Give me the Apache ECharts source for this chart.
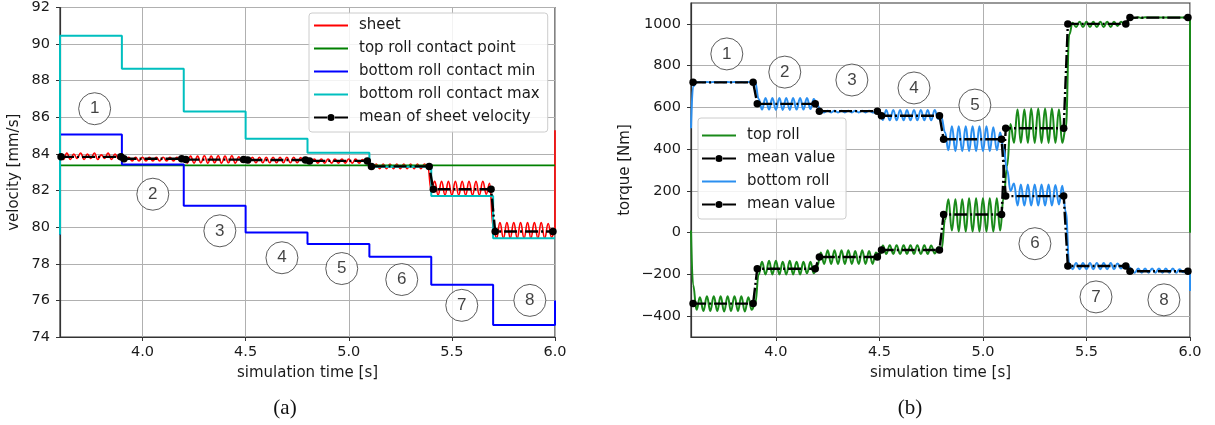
<!DOCTYPE html>
<html><head><meta charset="utf-8">
<script src="https://cdn.jsdelivr.net/npm/echarts@6/dist/echarts.min.js"></script>
<style>html,body{margin:0;padding:0;background:#fff}#c{width:1215px;height:425px}</style>
</head><body><div id="c"></div>
<script>
// ---------- shared sample times (s) ----------
const sampleTimes = [
3.600,3.617,3.633,3.650,3.667,3.683,3.700,3.717,3.733,3.750,3.767,3.783,3.800,3.817,3.833,3.850,3.867,3.883,
3.900,3.917,3.933,3.950,3.967,3.983,4.000,4.017,4.033,4.050,4.067,4.083,4.100,4.117,4.133,4.150,4.167,4.183,
4.200,4.217,4.233,4.250,4.267,4.283,4.300,4.317,4.333,4.350,4.367,4.383,4.400,4.417,4.433,4.450,4.467,4.483,
4.500,4.517,4.533,4.550,4.567,4.583,4.600,4.617,4.633,4.650,4.667,4.683,4.700,4.717,4.733,4.750,4.767,4.783,
4.800,4.817,4.833,4.850,4.867,4.883,4.900,4.917,4.933,4.950,4.967,4.983,5.000,5.017,5.033,5.050,5.067,5.083,
5.100,5.117,5.133,5.150,5.167,5.183,5.200,5.217,5.233,5.250,5.267,5.283,5.300,5.317,5.333,5.350,5.367,5.383,
5.400,5.417,5.433,5.450,5.467,5.483,5.500,5.517,5.533,5.550,5.567,5.583,5.600,5.617,5.633,5.650,5.667,5.683,
5.700,5.717,5.733,5.750,5.767,5.783,5.800,5.817,5.833,5.850,5.867,5.883,5.900,5.917,5.933,5.950,5.967,5.983,
6.000];

// ---------- (a) velocity [mm/s] ----------
const sheetVelocity = [
83.9,83.7,84.05,83.7,84.0,83.75,84.05,83.7,84.0,83.75,84.05,83.7,83.95,83.75,84.05,83.7,84.0,83.75,
83.8,83.62,83.82,83.62,83.82,83.62,83.82,83.62,83.82,83.62,83.82,83.62,83.82,83.62,83.82,83.62,83.82,83.65,
83.75,83.5,83.88,83.5,83.88,83.52,83.9,83.5,83.88,83.52,83.9,83.5,83.88,83.52,83.9,83.5,83.85,83.55,
83.75,83.52,83.82,83.52,83.82,83.52,83.82,83.52,83.82,83.52,83.82,83.52,83.82,83.52,83.82,83.52,83.8,83.55,
83.7,83.5,83.72,83.5,83.72,83.5,83.72,83.5,83.72,83.5,83.72,83.5,83.72,83.5,83.72,83.5,83.7,83.5,
83.45,83.2,83.45,83.2,83.45,83.2,83.45,83.2,83.45,83.2,83.45,83.2,83.45,83.2,83.45,83.2,83.45,83.3,
82.0,82.5,81.75,82.5,81.75,82.5,81.75,82.5,81.75,82.5,81.75,82.5,81.75,82.5,81.75,82.5,81.8,82.4,
80.0,79.4,80.25,79.4,80.25,79.4,80.25,79.4,80.25,79.4,80.25,79.4,80.25,79.4,80.25,79.4,80.2,79.45,
79.8];
const sheetEnd = [[6.0, 85.3]];
const topContact = [[3.6, 83.38], [6.0, 83.38]];
const bottomContactMin = [[3.6,79.6],[3.6,85.06],[3.9,83.42],[4.2,81.17],[4.5,79.71],[4.8,79.08],[5.1,78.39],[5.4,76.85],[5.7,74.65],[6.0,74.65],[6.0,76.0]];
const bottomContactMax = [[3.6,79.6],[3.6,90.45],[3.9,88.66],[4.2,86.32],[4.5,84.83],[4.8,84.07],[5.1,83.3],[5.4,81.7],[5.7,79.39],[6.0,79.39]];
const meanSheet = [[3.605,83.84],[3.895,83.84],[3.91,83.74],[4.19,83.74],[4.21,83.69],[4.49,83.69],[4.51,83.67],[4.79,83.67],[4.81,83.62],[5.09,83.62],[5.11,83.32],[5.39,83.32],[5.41,82.07],[5.69,82.07],[5.71,79.76],[5.99,79.76]];

// ---------- (b) torque [Nm] ----------
const topRollTorque = [
-250,-370,-310,-375,-305,-375,-305,-375,-305,-378,-305,-375,-305,-375,-305,-378,-310,-370,
-340,-200,-140,-200,-135,-200,-135,-200,-140,-200,-135,-200,-140,-200,-140,-195,-140,-195,
-160,-95,-150,-85,-150,-85,-150,-85,-150,-85,-150,-88,-150,-85,-150,-88,-150,-95,
-110,-62,-102,-60,-102,-60,-102,-60,-102,-60,-102,-60,-102,-60,-102,-62,-100,-70,
-80,60,160,10,160,5,160,5,165,5,165,5,165,5,165,5,165,10,
170,320,520,430,590,430,590,430,595,430,595,430,595,430,595,430,590,430,
500,950,1005,985,1010,985,1010,985,1010,985,1010,985,1010,985,1010,990,1010,995,
1015,1030,1028,1032,1028,1032,1030,1030,1030,1030,1030,1030,1030,1030,1030,1030,1030,1030,
1030];
const topRollStart = [[3.59, 10]];
const topRollEnd = [[6.0, 0]];
const bottomRollTorque = [
700,720,722,720,722,720,722,720,722,720,722,720,722,720,722,720,722,720,
720,640,590,645,590,645,588,645,588,645,588,645,590,645,590,645,592,640,
610,585,576,584,576,584,576,584,576,584,576,584,576,584,576,584,576,580,
580,540,588,538,588,538,588,538,588,538,588,538,588,538,588,538,588,545,
550,480,395,510,390,510,390,510,390,510,390,510,390,510,390,505,395,480,
400,300,200,235,130,230,130,230,130,230,130,230,130,230,130,228,135,225,
100,-150,-175,-145,-175,-145,-175,-145,-175,-145,-175,-145,-175,-145,-175,-148,-172,-150,
-160,-175,-192,-172,-192,-172,-192,-172,-192,-172,-192,-172,-192,-172,-192,-175,-190,-180,
-185];
const bottomRollStart = [[3.59, 500]];
const bottomRollEnd = [[6.0, -280]];
const meanTopRoll = [[3.6,-340],[3.89,-340],[3.91,-173],[4.19,-173],[4.21,-117],[4.49,-117],[4.51,-83],[4.79,-83],[4.81,87],[5.09,87],[5.11,500],[5.39,500],[5.41,1000],[5.69,1000],[5.71,1030],[5.99,1030]];
const meanBottomRoll = [[3.6,720],[3.89,720],[3.91,617],[4.19,617],[4.21,582],[4.49,582],[4.51,560],[4.79,560],[4.81,447],[5.09,447],[5.11,175],[5.39,175],[5.41,-160],[5.69,-160],[5.71,-185],[5.99,-185]];

// ---------- circled phase numbers ----------
const phaseLabels = ['1','2','3','4','5','6','7','8'];
const phaseTimesA = [3.768, 4.05, 4.375, 4.676, 4.966, 5.257, 5.548, 5.878];
const phaseVelA = [86.47, 81.8, 79.8, 78.33, 77.74, 77.14, 75.73, 76.0];
const phaseTimesB = [3.763, 4.043, 4.367, 4.667, 4.961, 5.251, 5.546, 5.874];
const phaseTorqueB = [856, 769, 731, 693, 611, -53, -308, -322];

const xTicks = [4.0, 4.5, 5.0, 5.5, 6.0];
const yTicksB = [-400, -200, 0, 200, 400, 600, 800, 1000];

// ---------- build ----------
const zipT = vals => sampleTimes.map((t, i) => [t, vals[i]]);
const FONT = 'DejaVu Sans';
const TXT = '#1a1a1a';
const AX = '#333';
const fmtX = v => { const k = Math.round(v * 2); return Math.abs(v * 2 - k) < 1e-6 ? v.toFixed(1) : ''; };
const fmtYB = v => (Math.round(v) % 200 === 0) ? (v < 0 ? '\u2212' + Math.abs(v) : String(v)) : '';

function xAxisCfg(gi, min) {
  return {
    gridIndex: gi, type: 'value', min: min, max: 6.0, splitNumber: 5,
    axisLine: { show: true, onZero: false, lineStyle: { color: AX, width: 1.2 } },
    axisTick: { show: true, length: 4, customValues: xTicks, lineStyle: { color: AX } },
    axisLabel: { formatter: fmtX, customValues: xTicks, color: TXT, fontSize: 14.5, fontFamily: FONT, margin: 8 },
    splitLine: { show: true, lineStyle: { color: '#b0b0b0', width: 1 } },
    name: 'simulation time [s]', nameLocation: 'middle', nameGap: 29,
    nameTextStyle: { color: TXT, fontSize: 15, fontFamily: FONT }
  };
}
const lineBase = { type: 'line', showSymbol: false, symbol: 'none', animation: false, silent: true };
const wave = { smooth: 0.45, smoothMonotone: 'x' };
const meanStyle = { type: 'line', symbol: 'circle', symbolSize: 7.5, showSymbol: true, animation: false, silent: true,
  itemStyle: { color: '#000' }, lineStyle: { color: '#000', width: 2.4, type: [13, 3, 2, 3] } };

function phaseSeries(gi, ts, vs) {
  return {
    type: 'scatter', xAxisIndex: gi, yAxisIndex: gi, symbol: 'circle', symbolSize: 32, z: 5, silent: true, animation: false,
    itemStyle: { color: '#fff', borderColor: '#333', borderWidth: 1 },
    label: { show: true, position: 'inside', formatter: '{b}', color: '#111', fontSize: 17, fontFamily: 'Liberation Sans' },
    data: phaseLabels.map((l, i) => ({ name: l, value: [ts[i], vs[i]] }))
  };
}
const hideDot = { opacity: 0 };
const legendCommon = {
  orient: 'vertical', itemWidth: 34, itemHeight: 9, itemGap: 6, selectedMode: false,
  backgroundColor: 'rgba(255,255,255,0.85)', borderColor: '#cccccc', borderWidth: 1, borderRadius: 3,
  textStyle: { fontSize: 15, fontFamily: FONT, color: TXT, lineHeight: 17, padding: [0, 0, 0, 6] }
};

const option = {
  animation: false,
  textStyle: { fontFamily: FONT },
  grid: [
    { left: 60, top: 5, width: 495, height: 332, show: true, borderColor: AX, borderWidth: 1.2, backgroundColor: 'transparent' },
    { left: 691, top: 3, width: 499, height: 334, show: true, borderColor: AX, borderWidth: 1.2, backgroundColor: 'transparent' }
  ],
  xAxis: [xAxisCfg(0, 3.6), xAxisCfg(1, 3.59)],
  yAxis: [
    { gridIndex: 0, type: 'value', min: 74, max: 92, interval: 2,
      axisLine: { show: true, onZero: false, lineStyle: { color: AX, width: 1.2 } },
      axisTick: { show: true, length: 4, lineStyle: { color: AX } },
      axisLabel: { color: TXT, fontSize: 14.5, fontFamily: FONT, margin: 10 },
      splitLine: { show: true, lineStyle: { color: '#b0b0b0', width: 1 } },
      name: 'velocity [mm/s]', nameLocation: 'middle', nameGap: 38,
      nameTextStyle: { color: TXT, fontSize: 15, fontFamily: FONT } },
    { gridIndex: 1, type: 'value', min: -500, max: 1100, splitNumber: 8,
      axisLine: { show: true, onZero: false, lineStyle: { color: AX, width: 1.2 } },
      axisTick: { show: true, length: 4, customValues: yTicksB, lineStyle: { color: AX } },
      axisLabel: { formatter: fmtYB, customValues: yTicksB, color: TXT, fontSize: 14.5, fontFamily: FONT, margin: 10 },
      splitLine: { show: true, lineStyle: { color: '#b0b0b0', width: 1 } },
      name: 'torque [Nm]', nameLocation: 'middle', nameGap: 58,
      nameTextStyle: { color: TXT, fontSize: 15, fontFamily: FONT } }
  ],
  legend: [
    Object.assign({}, legendCommon, { left: 309, top: 13, padding: [4, 8, 6, 4],
      data: [
        { name: 'sheet', itemStyle: hideDot },
        { name: 'top roll contact point', itemStyle: hideDot },
        { name: 'bottom roll contact min', itemStyle: hideDot },
        { name: 'bottom roll contact max', itemStyle: hideDot },
        { name: 'mean of sheet velocity' }
      ] }),
    Object.assign({}, legendCommon, { left: 698, top: 118, padding: [9, 6, 6, 3],
      data: [
        { name: 'top roll', itemStyle: hideDot },
        { name: 'mean value' },
        { name: 'bottom roll', itemStyle: hideDot },
        { name: 'mean value ' }
      ] })
  ],
  series: [
    Object.assign({}, lineBase, wave, { name: 'sheet', xAxisIndex: 0, yAxisIndex: 0,
      lineStyle: { color: '#ff0000', width: 1.6 }, data: zipT(sheetVelocity).concat(sheetEnd) }),
    Object.assign({}, lineBase, { name: 'top roll contact point', xAxisIndex: 0, yAxisIndex: 0,
      lineStyle: { color: '#008000', width: 1.8 }, data: topContact }),
    Object.assign({}, lineBase, { name: 'bottom roll contact min', xAxisIndex: 0, yAxisIndex: 0, step: 'end',
      lineStyle: { color: '#0000ff', width: 2 }, data: bottomContactMin }),
    Object.assign({}, lineBase, { name: 'bottom roll contact max', xAxisIndex: 0, yAxisIndex: 0, step: 'end',
      lineStyle: { color: '#00bfbf', width: 2 }, data: bottomContactMax }),
    Object.assign({}, meanStyle, { name: 'mean of sheet velocity', xAxisIndex: 0, yAxisIndex: 0, data: meanSheet }),

    Object.assign({}, lineBase, wave, { name: 'top roll', xAxisIndex: 1, yAxisIndex: 1,
      lineStyle: { color: '#1a8a1a', width: 2 }, data: topRollStart.concat(zipT(topRollTorque), topRollEnd) }),
    Object.assign({}, meanStyle, { name: 'mean value', xAxisIndex: 1, yAxisIndex: 1, data: meanTopRoll }),
    Object.assign({}, lineBase, wave, { name: 'bottom roll', xAxisIndex: 1, yAxisIndex: 1,
      lineStyle: { color: '#2b8ff0', width: 2 }, data: bottomRollStart.concat(zipT(bottomRollTorque), bottomRollEnd) }),
    Object.assign({}, meanStyle, { name: 'mean value ', xAxisIndex: 1, yAxisIndex: 1, data: meanBottomRoll }),

    phaseSeries(0, phaseTimesA, phaseVelA),
    phaseSeries(1, phaseTimesB, phaseTorqueB)
  ],
  graphic: [
    { type: 'text', x: 285, y: 408, style: { text: '(a)', font: '21px "Liberation Serif"', fill: '#111', align: 'center', verticalAlign: 'middle', textAlign: 'center', textVerticalAlign: 'middle' } },
    { type: 'text', x: 910, y: 408, style: { text: '(b)', font: '21px "Liberation Serif"', fill: '#111', align: 'center', verticalAlign: 'middle', textAlign: 'center', textVerticalAlign: 'middle' } }
  ]
};
const chart = echarts.init(document.getElementById('c'), null, { renderer: 'canvas' });
chart.setOption(option);
</script>
</body></html>
